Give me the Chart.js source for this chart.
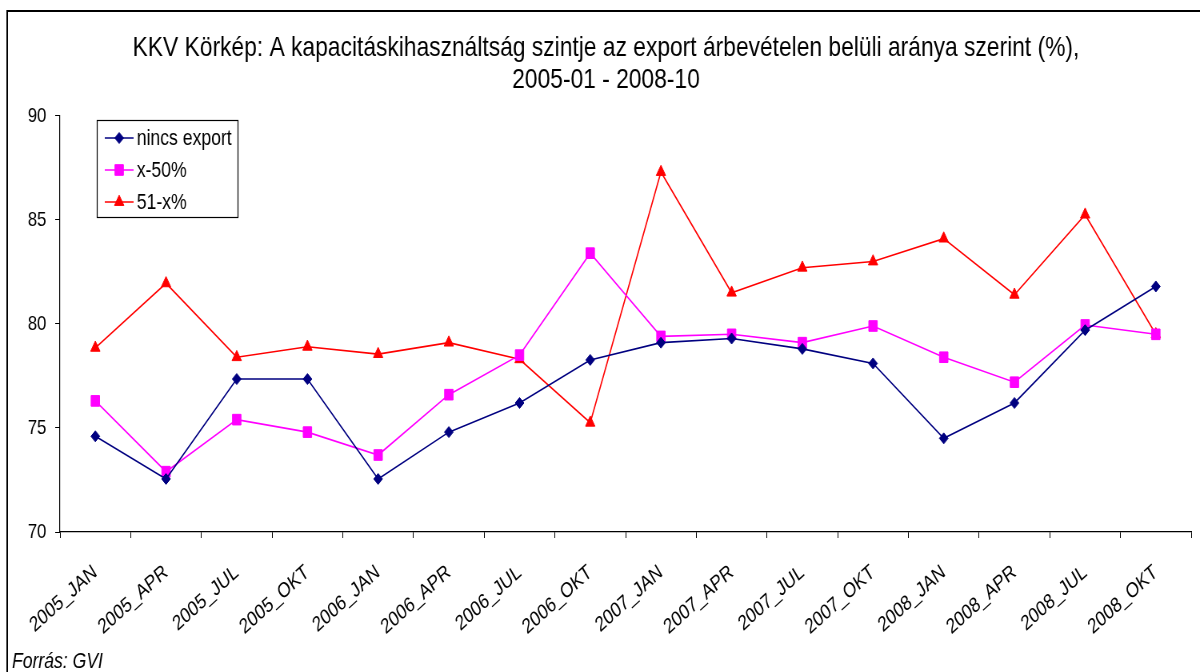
<!DOCTYPE html>
<html>
<head>
<meta charset="utf-8">
<script src="https://cdn.jsdelivr.net/npm/chart.js@4.4.0/dist/chart.umd.min.js"></script>
<style>
  html, body { margin: 0; padding: 0; background: #fff; overflow: hidden; }
  /* az eredeti abra vizszintesen osszenyomott, ezert 1500px szeles vasznat 0.8-ra szukitunk */
  #wrap { width: 1500px; height: 672px; transform: scaleX(0.8); transform-origin: 0 0; }
</style>
</head>
<body>
<div id="wrap"><canvas id="grafico" width="1500" height="672"></canvas></div>
<script>
// ---- adatok ----
const negyedevek = ["2005_JAN","2005_APR","2005_JUL","2005_OKT","2006_JAN","2006_APR","2006_JUL","2006_OKT",
                    "2007_JAN","2007_APR","2007_JUL","2007_OKT","2008_JAN","2008_APR","2008_JUL","2008_OKT"];
const nincsExport = [74.6, 72.55, 77.35, 77.35, 72.55, 74.8, 76.2, 78.27, 79.1, 79.3, 78.8, 78.1, 74.5, 76.2, 79.7, 81.8];
const x50 = [76.3, 72.9, 75.4, 74.8, 73.7, 76.6, 78.5, 83.4, 79.4, 79.5, 79.1, 79.9, 78.4, 77.2, 79.95, 79.5];
const x51 = [78.85, 81.95, 78.4, 78.9, 78.55, 79.1, 78.3, 75.25, 87.3, 81.5, 82.7, 83.0, 84.1, 81.4, 85.25, 79.5];
const yTicks = [70, 75, 80, 85, 90];

const FONT = "'Liberation Sans', Arial, sans-serif";

// keret, forras es jelmagyarazat
const keretPlugin = {
  id: "keret",
  afterDraw(chart) {
    const ctx = chart.ctx;
    ctx.save();
    ctx.strokeStyle = "#000";
    ctx.lineWidth = 2;
    ctx.beginPath();
    ctx.moveTo(9, 700);
    ctx.lineTo(9, 11);
    ctx.lineTo(1500, 11);
    ctx.stroke();

    ctx.fillStyle = "#000";
    ctx.font = "italic 22px " + FONT;
    ctx.textBaseline = "alphabetic";
    ctx.fillText("Forrás: GVI", 15, 668);

    // jelmagyarazat
    const bx = 121, by = 120, bw = 176, bh = 97;
    ctx.lineWidth = 1.2;
    ctx.fillStyle = "#fff";
    ctx.fillRect(bx, by, bw, bh);
    ctx.strokeStyle = "#000";
    ctx.strokeRect(bx + 0.5, by + 0.5, bw, bh);
    ctx.font = "22px " + FONT;
    ctx.textBaseline = "middle";
    chart.data.datasets.forEach((ds, i) => {
      const yy = by + 18 + i * 32;
      ctx.strokeStyle = ds.borderColor;
      ctx.lineWidth = 1.5;
      ctx.beginPath();
      ctx.moveTo(bx + 10, yy);
      ctx.lineTo(bx + 46, yy);
      ctx.stroke();
      ctx.fillStyle = ds.pointBackgroundColor;
      ctx.strokeStyle = ds.pointBorderColor;
      ctx.lineWidth = 1;
      Chart.helpers.drawPoint(ctx, {
        pointStyle: ds.pointStyle, radius: ds.pointRadius, borderWidth: 1
      }, bx + 28, yy);
      ctx.fillStyle = "#000";
      ctx.fillText(ds.label, bx + 50, yy + 1);
    });
    ctx.restore();
  }
};

function sorozat(label, data, szin, stilus, r) {
  return {
    label: label,
    data: data,
    borderColor: szin,
    backgroundColor: szin,
    pointBackgroundColor: szin,
    pointBorderColor: szin,
    borderWidth: 1.6,
    pointStyle: stilus,
    pointRadius: r,
    pointBorderWidth: 1,
    tension: 0
  };
}

new Chart(document.getElementById("grafico").getContext("2d"), {
  type: "line",
  data: {
    labels: negyedevek,
    datasets: [
      sorozat("nincs export", nincsExport, "#000080", "rectRot", 5.5),
      sorozat("x-50%", x50, "#FF00FF", "rect", 7.5),
      sorozat("51-x%", x51, "#FF0000", "triangle", 6.8)
    ]
  },
  options: {
    responsive: false,
    maintainAspectRatio: false,
    animation: false,
    events: [],
    layout: { padding: { left: 26, right: 11, top: 0, bottom: 0 } },
    plugins: {
      legend: { display: false },
      tooltip: { enabled: false },
      title: {
        display: true,
        text: ["KKV Körkép: A kapacitáskihasználtság szintje az export árbevételen belüli aránya szerint (%),", "2005-01 - 2008-10"],
        color: "#000",
        font: { family: FONT, size: 28.5, weight: "normal", lineHeight: 1.12 },
        padding: { top: 32, bottom: 20 }
      }
    },
    scales: {
      x: {
        offset: true,
        grid: { display: true, drawOnChartArea: false, offset: true, tickLength: 6, color: "#000", tickColor: "#000" },
        border: { display: true, color: "#000", width: 1.2 },
        ticks: {
          color: "#000",
          font: { family: FONT, size: 21 },
          minRotation: 36, maxRotation: 36,
          autoSkip: false,
          padding: 22
        },
        afterFit(scale) { scale.height = 140; }
      },
      y: {
        min: 70, max: 90,
        afterBuildTicks(scale) { scale.ticks = yTicks.map(v => ({ value: v })); },
        grid: { display: true, drawOnChartArea: false, tickLength: 6, color: "#000", tickColor: "#000" },
        border: { display: true, color: "#000", width: 1.2 },
        ticks: { color: "#000", font: { family: FONT, size: 21 }, padding: 11 },
        afterFit(scale) { scale.width = 49; }
      }
    }
  },
  plugins: [keretPlugin]
});
</script>
</body>
</html>
